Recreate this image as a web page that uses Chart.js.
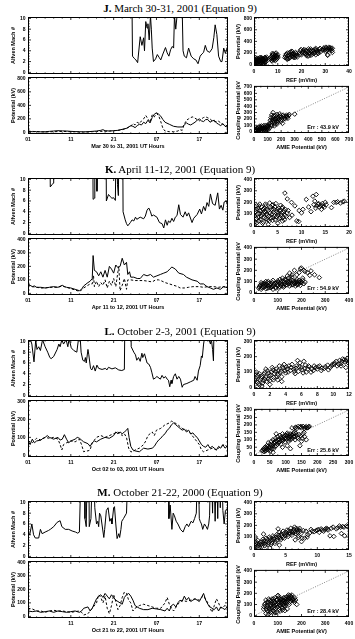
<!DOCTYPE html>
<html>
<head>
<meta charset="utf-8">
<script src="https://cdn.jsdelivr.net/npm/chart.js@4.4.1/dist/chart.umd.min.js"></script>
<style>
  body { margin: 0; background: #fff; }
  #fig { position: relative; width: 355px; height: 639px; overflow: hidden; background: #fff; }
  #fig canvas { position: absolute; }
  .ttl { position: absolute; white-space: nowrap; font: 11px "Liberation Serif", "Times New Roman", serif; color: #000; transform: translateX(-50%); line-height: 11px; }
</style>
</head>
<body>
<div id="fig"></div>
<script>
// ---- shared ticks ----
const timeMax = 46.7;                       // hours after 01 UT on day 1
const timeTicks = [0, 10, 20, 30, 40];
const timeLabels = ['01', '11', '21', '07', '17'];
const timeLabelsM = ['', '11', '21', '07', '17'];
const machTicks = [0, 2, 4, 6, 8, 10];

// ---- J. March 30-31, 2001 ----  [hour, value]
const jMach = [[0,20],[24.2,20],[24.4,3.0],[24.8,2.6],[25.2,2.3],[25.6,1.8],[26.2,6.6],[26.6,5.0],[27.0,6.4],[27.2,4.0],[27.5,9.4],[27.8,8.2],[28.0,9.0],[28.3,6.0],[28.6,10.5],[28.8,8.0],[29.0,4.5],[29.3,2.0],[29.8,2.5],[30.2,3.3],[30.6,2.8],[31.0,2.3],[31.5,3.4],[32.1,4.6],[32.5,3.6],[32.9,3.0],[33.3,4.2],[33.7,4.8],[34.0,4.5],[34.2,10.5],[34.5,8.0],[34.8,10.5],[36.0,12],[36.2,4.0],[36.5,3.0],[37.0,2.7],[37.5,4.5],[38.1,3.0],[38.7,2.5],[39.2,2.3],[39.7,1.6],[40.2,3.0],[40.6,3.4],[41.0,3.7],[41.4,5.0],[41.8,4.0],[42.4,3.7],[43.0,4.4],[43.4,6.5],[43.7,8.8],[44.1,7.0],[44.5,3.0],[45.0,2.0],[45.3,2.0],[45.7,4.5],[46.1,3.5],[46.5,4.5],[46.7,4.0]];
const jAmie = [[0,15],[1,10],[2,12],[3,8],[4,10],[5,15],[6,20],[7,25],[8,22],[9,20],[10,15],[11,12],[12,10],[13,8],[14,10],[15,15],[16,20],[17,30],[17.5,40],[18,25],[19,20],[20,25],[21,30],[22,45],[23,60],[24,100],[24.5,90],[25,70],[25.5,100],[26,120],[26.5,110],[27,150],[27.5,130],[28,180],[28.5,140],[29,220],[29.5,270],[30,290],[30.5,270],[31,240],[31.5,190],[32,150],[33,120],[34,90],[35,80],[36,80],[36.5,110],[37,140],[37.5,120],[38,110],[38.5,130],[39,150],[39.5,180],[40,200],[40.5,170],[41,160],[41.5,190],[42,190],[42.5,150],[43,170],[43.5,180],[44,140],[44.5,120],[45,100],[45.5,130],[46,90],[46.4,80],[46.7,110]];
const jCoupling = [[0,20],[1,15],[2,10],[3,8],[4,5],[5,8],[6,10],[7,12],[8,15],[9,12],[10,10],[11,8],[12,5],[13,5],[14,8],[15,10],[16,12],[17,15],[18,15],[19,20],[20,25],[21,30],[22,40],[23,60],[24,90],[24.5,130],[25,110],[25.5,150],[26,130],[26.5,170],[27,200],[27.5,250],[28,200],[28.5,150],[29,260],[29.5,230],[30,280],[30.5,250],[31,160],[31.5,60],[32,20],[33,10],[34,10],[35,20],[35.5,40],[36,30],[36.5,120],[37,180],[37.5,200],[38,220],[38.5,230],[39,210],[39.5,190],[40,170],[40.5,200],[41,220],[41.5,230],[42,215],[42.5,200],[43,170],[43.5,160],[44,160],[44.5,170],[45,130],[45.5,120],[46,110],[46.7,90]];
const jRefScatter = [[0.3,10],[0.5,40],[0.8,20],[1,60],[1.2,5],[1.5,35],[1.8,80],[2,15],[2.2,50],[2.5,100],[2.7,30],[3,70],[3.2,120],[3.5,45],[3.8,90],[4,20],[4.2,60],[4.5,110],[4.8,40],[5,80],[5.3,130],[1,100],[0.6,75],[3.6,10],
  [0.2,50],[0.4,90],[0.7,120],[0.9,35],[1.3,85],[1.6,110],[1.9,55],[2.1,75],[2.4,10],[2.6,125],[2.9,95],[3.1,25],[3.4,105],[3.7,65],[4.1,85],[4.4,35],[4.6,125],[4.9,100],[5.1,55],[0.1,25],[1.4,15],[2.8,45],[3.3,90],[4.3,5],[5.2,105],
  [7,90],[7.3,140],[7.6,60],[8,120],[8.2,180],[8.5,100],[8.8,150],[9,70],[9.3,200],[9.5,130],[9.8,110],[10,170],[7.8,195],
  [7.1,120],[7.4,75],[7.7,165],[8.1,140],[8.4,80],[8.7,125],[9.1,160],[9.4,90],[9.7,150],[10.1,130],[8.9,185],[7.5,105],
  [13,120],[13.5,180],[14,150],[14.3,100],[14.8,200],[15.2,130],[15.5,170],[16,230],[16.3,150],[16.8,190],[17.2,120],[17.5,210],[18,160],[14,90],
  [13.2,150],[13.7,110],[14.1,200],[14.6,160],[15,110],[15.4,220],[15.8,140],[16.1,180],[16.6,125],[17,170],[17.4,150],[17.8,190],[18.2,130],[15.9,200],
  [19,200],[19.5,240],[20,170],[20.5,220],[21,260],[21.5,190],[22,230],[22.5,150],[23,270],[23.5,200],[24,240],[24.5,180],[25,250],[25.5,210],[26,280],[26.5,230],[27,190],[27.5,260],[28,220],
  [19.2,170],[19.8,260],[20.3,200],[20.8,240],[21.2,210],[21.8,250],[22.3,180],[22.8,220],[23.3,240],[23.8,270],[24.3,210],[24.8,230],[25.3,190],[25.8,260],[26.3,250],[26.8,210],[27.3,230],[27.8,280],[22,160],[26,170],
  [29,250],[29.5,290],[30,230],[30.5,280],[31,260],[31.5,300],[32,250],[32.5,270],[33,210],[31,170],[33,280],[23,150],[24,160],[31,160],
  [29.2,270],[29.8,260],[30.3,300],[30.8,240],[31.3,280],[31.8,270],[32.3,290],[32.8,240]];
const jAmieScatter = [[10,5],[20,20],[30,10],[40,40],[50,15],[60,60],[70,30],[80,70],[90,20],[100,50],[25,50],[55,90],[85,100],[15,30],[45,65],[75,10],[95,80],[35,25],[65,45],[105,30],
  [5,15],[12,40],[18,8],[22,55],[28,30],[33,70],[38,15],[42,85],[48,35],[52,50],[58,20],[62,80],[68,55],[72,95],[78,40],[82,25],[88,60],[92,35],[98,95],[102,70],[108,90],[115,60],
  [110,120],[120,180],[130,90],[140,220],[150,150],[160,250],[170,120],[175,200],[180,170],[190,280],[200,230],[210,130],[220,240],[230,200],[240,260],[250,210],[260,270],[130,260],[140,300],[155,200],[165,160],[120,140],[150,90],[185,240],[205,190],[215,260],
  [125,110],[135,150],[145,180],[155,120],[160,200],[165,230],[170,270],[175,150],[180,220],[185,190],[195,250],[200,160],[210,220],[225,210],[235,240],[245,230],[255,250],[125,220],[135,190],[145,250],
  [300,275]];

// ---- K. April 11-12, 2001 ----
const kMach = [[0,20],[5.1,20],[5.2,8.6],[5.6,9.0],[5.9,9.3],[6.0,20],[15.1,20],[15.2,6.3],[15.5,6.5],[15.6,20],[16.0,20],[16.1,7.8],[16.4,20],[18.2,20],[18.3,6.0],[18.8,7.2],[19.2,6.8],[19.6,6.5],[20.0,6.6],[20.4,6.1],[20.6,20],[20.9,9.0],[21.1,7.0],[21.3,20],[22.1,20],[22.2,4.0],[22.7,2.5],[23.0,1.8],[23.3,1.4],[23.9,2.0],[24.3,2.5],[24.7,2.3],[25.1,3.0],[25.4,2.6],[26.2,3.0],[27.0,2.7],[27.4,3.2],[27.8,4.3],[28.2,4.7],[28.6,4.0],[28.9,3.2],[29.3,3.4],[30.1,3.0],[30.7,2.0],[31.3,1.8],[31.7,1.0],[32.1,2.5],[32.5,1.5],[32.8,2.3],[33.2,2.0],[33.6,2.8],[34.0,2.2],[34.4,3.0],[34.8,3.3],[35.2,5.3],[35.6,3.5],[36.2,3.0],[36.7,4.0],[37.1,3.2],[37.5,3.8],[38.3,2.0],[38.7,2.8],[39.5,3.5],[40.1,4.5],[40.5,3.6],[41.0,5.0],[41.4,4.2],[41.8,5.7],[42.2,5.0],[42.6,7.3],[43.1,5.5],[43.7,5.2],[44.3,7.5],[44.7,4.5],[45.1,5.2],[45.5,4.3],[45.8,5.8],[46.3,6.0],[46.7,5.0]];
const kAmie = [[0,70],[0.5,60],[1,50],[1.5,55],[2,45],[3,45],[4,40],[5,45],[6,50],[7,45],[8,60],[8.5,50],[9,45],[10,40],[11,30],[12,20],[12.5,30],[13,55],[14,80],[14.5,90],[15,110],[15.2,280],[15.5,170],[16,160],[16.5,130],[17,160],[17.5,120],[18,170],[18.5,120],[19,200],[19.5,180],[20,150],[20.5,210],[21,190],[21.5,200],[22,260],[22.5,210],[23,230],[23.3,140],[23.7,160],[24,120],[24.7,120],[25.5,110],[26.2,110],[27,140],[27.8,130],[28.6,140],[29.3,120],[30.1,130],[30.9,140],[31.7,150],[32.5,160],[33.1,180],[33.6,195],[34.4,180],[35.2,150],[36.3,140],[37,120],[38.3,100],[39.5,90],[40.2,70],[41,70],[41.8,50],[42.6,40],[43.3,30],[44.1,40],[44.9,30],[45.7,50],[46.2,45],[46.7,40]];
const kCoupling = [[0,65],[1,50],[2,45],[3,40],[4,40],[5,45],[6,45],[7,45],[8,55],[9,45],[10,35],[11,25],[12,15],[12.5,25],[13,40],[14,60],[14.5,70],[15,70],[15.3,130],[15.5,50],[16,90],[16.5,50],[17,80],[17.5,60],[18,100],[18.5,40],[19,90],[19.5,60],[20,110],[20.5,50],[21,160],[21.2,200],[21.5,20],[22,60],[22.5,110],[23,30],[23.3,100],[24,100],[25,95],[26,95],[27,95],[28,90],[29,85],[29.8,100],[30.5,100],[31,95],[32,80],[33,70],[34,60],[35,50],[35.5,40],[36.5,40],[37.5,45],[38.5,50],[40,50],[41,45],[42,50],[43.3,50],[44.5,45],[45.5,50],[46.7,45]];
const kRefScatter = [[0.2,30],[0.5,60],[0.7,100],[1,40],[1.2,130],[1.5,80],[1.8,20],[2,110],[2.2,150],[2.5,60],[2.8,90],[3,130],[3.2,40],[3.5,160],[3.8,100],[4,70],[4.2,140],[4.5,50],[4.8,120],[5,90],[5.2,150],[5.5,70],[5.8,110],[6,40],[6.3,130],[6.5,90],[1,170],[2.4,185],[3.3,195],[4.6,190],[0.4,140],[1.6,160],[2,30],[3,10],[5,20],[6,160],[7,110],[7.5,70],[4,180],
  [0.1,80],[0.3,120],[0.6,25],[0.8,150],[0.9,70],[1.1,105],[1.3,55],[1.4,125],[1.7,95],[1.9,140],[2.1,70],[2.3,120],[2.6,100],[2.7,140],[2.9,50],[3.1,80],[3.4,110],[3.6,65],[3.7,140],[3.9,45],[4.1,115],[4.3,85],[4.4,160],[4.7,75],[4.9,140],[5.1,110],[5.3,60],[5.4,130],[5.7,90],[5.9,150],[6.1,70],[6.2,115],[6.4,50],[6.6,140],[6.8,80],[7.2,130],[2.5,170],[3.8,175],[1.2,185],[0.5,170],[5.6,175],
  [6.5,280],[7,230],[7.9,200],[8.6,170],[9,40],[9.4,35],[10.3,140],[11,225],[11.5,160],[12.4,253],[13.1,268],[12.8,211],[13.5,183],[13.8,160],[14.2,140],[15,200],[14.5,170],[16.3,155],[17.3,200],[18.7,205],[19,210],[13,150],[12,120],[9.5,130],[8,90],[10,110],
  [13.2,170],[13.6,190],[14,175],[14.4,190],[14.8,160],[15.2,180],[12.6,180],[16.8,200],[17.6,205],[18.2,195]];
const kAmieScatter = [[20,40],[25,60],[30,30],[35,80],[40,50],[45,70],[50,35],[55,90],[60,60],[65,45],[70,80],[75,55],[80,30],[85,75],[90,50],[95,90],[100,60],[105,40],[110,85],[115,65],[120,100],[125,50],[130,80],[135,110],[140,70],[145,95],[150,60],[155,120],[160,85],[165,70],[170,100],[175,60],[180,90],[185,75],[190,110],[195,65],[200,90],[210,80],
  [22,50],[28,70],[33,45],[38,65],[43,85],[48,55],[52,75],[58,40],[62,85],[68,65],[72,45],[78,90],[82,60],[88,85],[92,40],[98,75],[102,95],[108,55],[112,100],[118,80],[122,60],[128,95],[132,65],[138,90],[142,105],[148,80],[152,100],[158,70],[162,110],[168,90],[172,80],[178,105],[182,70],[188,95],[192,85],[198,100],[205,110],[215,95],
  [30,90],[50,100],[100,105],[110,120],[140,150],[150,175],[160,140],[170,200],[180,160],[195,215],[200,220],[210,200],[215,190],[225,180],[235,155],[240,195],[255,160],[275,135],[145,130],[130,120],[180,120],[205,130],[60,100],[80,110],[120,130],[160,160],[190,180]];

// ---- L. October 2-3, 2001 ----
const lMach = [[0,9.5],[0.5,10.5],[0.9,9.5],[1.4,6.2],[1.8,10.2],[2.1,8.5],[2.5,9.0],[2.9,8.3],[3.4,10.3],[4.0,9.0],[4.6,8.0],[5.1,7.0],[5.4,6.8],[6.0,7.2],[6.8,8.5],[7.2,9.5],[7.5,9.0],[7.9,10.3],[8.3,9.5],[8.9,10.3],[9.3,9.0],[9.6,10.5],[10.1,8.8],[10.7,8.3],[11.4,8.0],[11.8,10.5],[12.2,10.5],[12.4,8.0],[12.8,6.5],[13.2,6.3],[13.4,7.0],[13.6,6.0],[14.0,8.5],[14.2,7.5],[14.6,5.0],[14.9,4.7],[15.3,5.5],[15.7,4.5],[16.1,5.6],[16.5,5.0],[17.3,4.8],[18.1,5.0],[18.4,4.7],[18.8,5.2],[19.6,4.9],[20.4,5.1],[21.2,4.7],[21.9,4.6],[22.5,4.8],[22.7,20],[23.9,20],[24.1,9.0],[24.7,8.0],[25.1,7.5],[25.4,6.5],[25.8,7.0],[26.2,6.3],[26.6,7.8],[26.8,7.0],[27.2,7.7],[27.8,6.0],[28.2,5.8],[28.6,5.2],[28.9,4.3],[29.3,3.0],[29.7,3.2],[30.1,3.5],[30.9,3.0],[31.3,3.7],[31.7,3.2],[32.1,3.5],[32.5,3.0],[32.8,2.8],[33.1,1.6],[33.4,2.8],[33.6,2.2],[34.0,3.5],[34.4,4.0],[34.8,3.0],[35.2,3.5],[35.6,3.0],[36.0,1.5],[36.3,2.0],[37.1,2.2],[37.9,2.5],[38.7,2.8],[39.0,3.5],[39.5,2.8],[39.8,4.5],[40.2,5.5],[40.5,7.3],[40.7,7.0],[41.0,9.5],[41.2,10.5],[42.2,10.5],[42.6,9.5],[42.8,10.5],[43.1,8.5],[43.3,6.4],[43.6,20],[46.7,20]];
const lAmie = [[0,80],[0.5,60],[1,90],[1.5,70],[2,80],[3,85],[3.5,95],[4,100],[4.5,110],[5,100],[5.5,95],[6,90],[7,100],[7.5,85],[8,90],[8.5,115],[9,90],[9.5,70],[10,80],[11,90],[11.5,100],[12,95],[12.5,85],[13,75],[14,65],[14.5,50],[15,70],[15.5,80],[16,75],[17,90],[18,100],[19,95],[20,110],[20.5,130],[21,120],[21.5,130],[22,120],[22.5,130],[23,140],[23.3,150],[23.6,100],[24,50],[24.5,30],[25,25],[26,20],[26.5,30],[27,40],[28,35],[29,40],[29.5,50],[30,70],[30.5,85],[31,95],[31.5,110],[32,120],[32.5,140],[33,150],[33.5,170],[34,180],[34.5,170],[35,160],[35.5,150],[36,140],[36.5,145],[37,130],[37.5,140],[38,120],[38.5,125],[39,110],[39.5,100],[40,80],[40.5,60],[41,50],[41.5,45],[42,60],[42.5,40],[43,50],[43.5,40],[44,30],[44.5,50],[45,40],[45.5,60],[46,40],[46.5,50],[46.7,70]];
const lCoupling = [[0,80],[1,70],[2,95],[3,85],[4,100],[5,95],[6,100],[7,90],[7.5,60],[7.9,30],[8.3,60],[9,70],[10,80],[11,75],[12,90],[12.5,60],[13,20],[13.5,25],[14,25],[14.5,30],[15,70],[16,100],[17,110],[18,100],[19,110],[20,120],[21,130],[22,110],[22.5,120],[23,100],[23.5,40],[24,20],[24.5,20],[25,30],[26,40],[27,60],[27.5,80],[28,110],[28.5,120],[29,130],[29.5,110],[30,140],[31,150],[32,170],[33,180],[33.5,190],[34,185],[35,170],[36,150],[37,140],[38,120],[39,90],[40,60],[40.5,30],[41,20],[42,30],[43,40],[44,30],[45,50],[46,60],[46.7,40]];
const lRefScatter = [[0.1,20],[0.2,60],[0.4,35],[0.5,80],[0.7,15],[0.8,50],[1,70],[1.1,30],[1.3,95],[1.4,55],[1.6,40],[1.7,110],[1.9,75],[2,45],[2.2,100],[2.3,130],[2.5,65],[2.6,90],[2.8,120],[3,50],[3,85],[3.2,140],[3.4,105],[3.5,70],[3.7,125],[3.8,150],[4,95],[4.1,135],[0.3,100],[1,10],[2,20],[3.5,40],[1.5,120],
  [0.15,45],[0.35,70],[0.6,25],[0.65,90],[0.9,60],[1.2,45],[1.25,85],[1.5,70],[1.8,55],[1.85,95],[2.1,80],[2.4,115],[2.45,50],[2.7,105],[2.9,70],[3.1,110],[3.3,95],[3.6,135],[3.9,110],[4.2,120],[4.4,140],[4.3,100],
  [4.6,110],[4.8,150],[5,120],[5.2,90],[5.4,140],[5.6,105],[5.8,160],[6,130],[6.2,95],[6.5,145],[6.8,120],[7,135],[7.2,100],[5.5,175],[6.3,170],
  [4.7,130],[5.1,105],[5.3,125],[5.7,135],[6.1,115],[6.4,125],[6.6,100],[6.9,140],[7.3,120],
  [7.5,110],[7.8,130],[8,120],[8.3,140],[8.6,125],[9,135],[9.3,145],[9.6,130],[9.9,150],[7.6,140],[8.1,135],[8.5,110],[8.9,125],[9.4,115],[9.8,140],
  [10.2,160],[10.5,140],[10.8,175],[11,155],[11.2,185],[11.5,165],[11.8,190],[12,170],[11,140],[11.6,130],[10.1,150],[10.4,170],[10.7,150],[11.1,170],[11.4,180],[11.7,175],[11.9,160]];
const lAmieScatter = [[25,25],[30,40],[32,20],[35,50],[38,30],[40,60],[42,35],[45,80],[48,45],[50,70],[52,25],[55,90],[58,55],[60,100],[62,40],[65,75],[68,110],[70,60],[72,90],[75,120],[78,80],[80,100],[82,130],[85,70],[88,110],[90,140],[92,95],[95,120],[98,85],[100,130],[102,105],[105,145],[108,115],[110,90],[112,125],[115,100],[118,135],[120,110],[125,140],[128,120],[130,100],[135,130],[140,110],[145,60],[150,90],[155,140],[160,120],[165,100],
  [28,30],[33,35],[36,25],[40,45],[44,55],[46,30],[50,55],[54,65],[56,40],[60,70],[64,85],[66,55],[70,95],[74,70],[76,100],[80,85],[84,115],[86,95],[90,105],[94,125],[96,110],[100,115],[104,125],[106,135],[110,105],[114,140],[116,120],[120,130],[124,120],[126,150],[132,145],[136,115],[142,135],[148,125],[152,110],[158,150],
  [130,180],[135,175],[140,190],[145,185],[150,180],[155,190],[160,178],[165,188],[170,182],[175,190],[120,180],[132,185],[148,190],[162,185],[168,180],[172,188],[70,140],[90,50],[105,60],[115,40],[60,15]];

// ---- M. October 21-22, 2000 ----
const mMach = [[0,4.5],[0.4,4.0],[0.9,6.0],[1.3,4.0],[1.7,3.4],[2.5,3.4],[2.9,5.0],[3.3,4.2],[4.0,4.5],[4.8,4.8],[5.2,5.0],[6.0,5.5],[6.8,6.3],[7.5,6.6],[7.9,5.5],[8.7,5.0],[9.5,5.0],[10.3,4.7],[11.1,4.5],[11.6,4.3],[12.0,4.5],[12.5,20],[13.2,20],[13.3,7.0],[13.6,5.5],[13.9,20],[14.2,20],[14.3,5.5],[14.7,7.0],[15.2,20],[15.6,9.0],[16.0,6.0],[16.3,6.5],[16.5,5.5],[16.7,8.0],[17.0,7.5],[17.7,3.5],[17.9,5.0],[18.3,8.5],[18.7,9.0],[19.1,6.5],[19.4,7.0],[19.6,6.0],[20.0,9.0],[20.2,9.2],[20.5,6.0],[20.8,3.3],[21.2,4.2],[21.4,3.5],[21.7,5.0],[21.9,6.5],[22.3,7.0],[23.0,8.0],[23.5,20],[32.8,20],[32.9,7.0],[33.2,9.5],[33.6,5.0],[33.9,8.0],[34.2,7.5],[34.6,6.5],[35.0,6.0],[35.6,5.0],[36.2,4.5],[36.7,5.5],[37.1,6.0],[37.5,5.5],[38.1,6.5],[38.5,6.2],[38.9,7.0],[39.3,8.0],[39.7,20],[40.0,7.0],[40.2,6.5],[40.5,6.0],[40.8,5.0],[41.2,6.0],[41.6,5.5],[41.9,5.0],[42.2,6.0],[42.4,7.5],[42.7,20],[43.1,8.0],[43.3,20],[43.7,6.5],[44.0,20],[44.3,7.0],[44.6,20],[44.9,9.0],[45.2,20],[45.5,8.5],[45.8,6.0],[46.1,8.5],[46.7,9.0]];
const mAmie = [[0,40],[1,35],[2,40],[3,30],[4,35],[5,40],[6,30],[7,40],[8,35],[9,30],[10,35],[11,40],[12,30],[12.5,40],[13,60],[14,70],[14.5,40],[15,60],[16,130],[16.5,150],[17,160],[17.5,140],[18,170],[18.5,150],[19,130],[19.5,160],[20,140],[20.5,120],[21,110],[21.5,100],[22,90],[22.5,140],[23,160],[23.5,170],[24,150],[24.5,120],[25,80],[26,60],[27,50],[28,50],[29,60],[30,55],[31,50],[32,40],[32.5,60],[33,40],[33.5,80],[34,90],[34.5,70],[35,100],[35.5,120],[36,110],[36.5,150],[37,120],[37.5,140],[38,110],[38.5,120],[39,130],[39.5,120],[40,110],[40.5,140],[41,170],[41.5,120],[42,90],[42.5,70],[43,60],[43.5,50],[44,70],[44.5,40],[45,70],[45.5,60],[46,50],[46.7,80]];
const mCoupling = [[0,60],[1,55],[2,40],[3,40],[4,30],[5,40],[6,45],[7,40],[8,40],[9,35],[10,30],[11,35],[12,40],[12.5,30],[13,10],[14,20],[15,60],[16,100],[16.5,160],[17,140],[17.5,100],[18,150],[18.5,60],[19,20],[19.5,80],[20,160],[20.5,110],[21,50],[21.5,80],[22,140],[22.5,180],[23,170],[23.5,120],[24,100],[24.5,40],[25,60],[26,80],[27,90],[28,80],[29,70],[30,60],[31,60],[32,100],[32.5,140],[33,90],[33.5,60],[34,40],[35,90],[36,120],[37,110],[38,120],[39,130],[40,120],[40.5,140],[41,150],[42,100],[42.5,60],[43,30],[43.5,80],[44,130],[44.5,100],[45,60],[46,80],[46.7,70]];
const mRefScatter = [[0.1,10],[0.3,40],[0.5,20],[0.6,70],[0.8,30],[1,55],[1.2,15],[1.4,80],[1.5,45],[1.7,25],[1.9,90],[2,60],[2.2,35],[2.4,100],[2.6,70],[2.8,50],[3,110],[3.2,85],[3.4,60],[3.6,120],[3.8,95],[4,140],[4.2,75],[4.4,110],[4.6,150],[4.8,90],[5,125],[5.2,160],[5.4,105],[5.6,140],[5.8,175],[6,115],[6.2,150],[6.4,185],[6.6,130],[6.8,160],[7,110],[7.2,175],[0.2,100],[1.5,125],[3.8,170],[2.5,5],[4,30],[6.5,75],[7.5,60],
  [0.15,25],[0.4,55],[0.7,45],[0.9,15],[1.1,35],[1.3,60],[1.6,65],[1.8,40],[2.1,80],[2.3,50],[2.5,85],[2.7,35],[2.9,75],[3.1,95],[3.3,45],[3.5,100],[3.7,75],[3.9,115],[4.1,90],[4.3,125],[4.5,95],[4.7,130],[4.9,110],[5.1,140],[5.3,120],[5.5,155],[5.7,125],[5.9,150],[6.1,135],[6.3,165],[6.5,145],[6.7,175],[6.9,140],[7.1,160],[7.3,150],[7.4,130],
  [7.8,155],[8.2,150],[8.5,120],[8.8,135],[9,165],[9.5,145],[10,160],[10.3,140],[10.6,170],[11,150],[11.4,175],[11.7,160],[12,110],[12.5,185],[12.6,105],[13,170],[13.5,195],[13.8,130],[14,190],[14.3,110],[14.6,195],[7,95],[8,90],
  [9.2,150],[9.8,155],[10.2,165],[10.8,160],[11.2,165],[11.6,170],[12.2,175],[13.2,180],[13.7,185],[14.2,185],[14.8,190],[7.6,90],[8.4,100]];
const mAmieScatter = [[40,60],[45,100],[50,20],[50,140],[55,80],[58,40],[60,120],[62,150],[65,60],[68,90],[70,30],[72,130],[75,70],[78,110],[80,45],[82,150],[85,90],[88,25],[90,120],[92,65],[95,100],[98,140],[100,80],[102,180],[105,110],[108,55],[110,130],[112,90],[115,150],[118,120],[120,70],[122,100],[125,140],[128,110],[130,160],[132,90],[135,130],[138,170],[140,120],[145,150],[148,100],[150,180],[155,130],[160,185],[165,150],[170,120],[175,140],[180,100],
  [42,80],[48,110],[52,60],[54,120],[56,95],[62,70],[64,135],[66,45],[70,105],[74,90],[76,150],[80,130],[84,70],[86,115],[88,160],[92,95],[94,140],[96,75],[100,120],[104,160],[106,95],[110,150],[114,110],[116,75],[118,140],[122,130],[124,160],[126,90],[130,120],[134,150],[136,105],[142,140],[146,165],[150,120],[152,150],[158,160],[162,140],[168,135],[172,160],[100,180],[145,185],[155,175],
  [60,10],[70,5],[85,35],[95,30],[110,40],[120,50],[130,45],[140,60]];

const panels = [
  { dy: 0, letter: 'J.', date: 'March 30-31, 2001 (Equation 9)', hours: 'Mar 30 to 31, 2001 UT Hours', tLabels: timeLabels,
    mach: jMach, amie: jAmie, coupling: jCoupling, potTicks: [0, 200, 400, 600, 800],
    ref: jRefScatter, refTicks: [0, 10, 20, 30, 40], cmp: jAmieScatter, cmpTicks: [0, 100, 200, 300, 400, 500, 600, 700], err: 'Err : 43.9 kV' },
  { dy: 161, letter: 'K.', date: 'April 11-12, 2001 (Equation 9)', hours: 'Apr 11 to 12, 2001 UT Hours', tLabels: timeLabels,
    mach: kMach, amie: kAmie, coupling: kCoupling, potTicks: [0, 100, 200, 300, 400],
    ref: kRefScatter, refTicks: [0, 5, 10, 15, 20], cmp: kAmieScatter, cmpTicks: [0, 100, 200, 300, 400], err: 'Err : 54.9 kV' },
  { dy: 323, letter: 'L.', date: 'October 2-3, 2001 (Equation 9)', hours: 'Oct 02 to 03, 2001 UT Hours', tLabels: timeLabels,
    mach: lMach, amie: lAmie, coupling: lCoupling, potTicks: [0, 100, 200, 300],
    ref: lRefScatter, refTicks: [0, 2, 4, 6, 8, 10, 12], cmp: lAmieScatter, cmpTicks: [0, 50, 100, 150, 200, 250, 300], err: 'Err : 25.6 kV' },
  { dy: 484, letter: 'M.', date: 'October 21-22, 2000 (Equation 9)', hours: 'Oct 21 to 22, 2001 UT Hours', tLabels: timeLabelsM,
    mach: mMach, amie: mAmie, coupling: mCoupling, potTicks: [0, 100, 200, 300, 400],
    ref: mRefScatter, refTicks: [0, 5, 10, 15], cmp: mAmieScatter, cmpTicks: [0, 100, 200, 300, 400], err: 'Err : 28.4 kV' }
];

const fig = document.getElementById('fig');
const SANS = '"Liberation Sans", Arial, sans-serif';

function pts(pairs) {
  return pairs.map(p => ({ x: p[0], y: p[1] }));
}

// major + minor tick positions for the inside tick marks
function marks(scale, minor) {
  const t = scale.ticks.map(k => k.value);
  const out = [];
  if (t.length < 2) return out;
  const step = (t[1] - t[0]) / minor;
  for (let v = t[0] - step; v >= scale.min - 1e-9; v -= step) out.push({ v, len: 1.6 });
  t.forEach((v, i) => {
    out.push({ v, len: 3 });
    if (i < t.length - 1) for (let k = 1; k < minor; k++) out.push({ v: v + k * step, len: 1.6 });
  });
  for (let v = t[t.length - 1] + step; v <= scale.max + 1e-9; v += step) out.push({ v, len: 1.6 });
  return out;
}

// IDL style frame: box, inside ticks on all sides, axis titles, error note
const framePlugin = {
  id: 'frame',
  afterDatasetsDraw(chart, args, o) {
    const { ctx, chartArea: a } = chart;
    const { x, y } = chart.scales;
    ctx.save();
    ctx.strokeStyle = '#000';
    ctx.lineWidth = 1;
    ctx.strokeRect(a.left + 0.5, a.top + 0.5, a.right - a.left - 1, a.bottom - a.top - 1);
    ctx.lineWidth = 0.8;
    ctx.beginPath();
    marks(x, o.xMinor).forEach(m => {
      const px = x.getPixelForValue(m.v);
      if (px < a.left + 1 || px > a.right - 1) return;
      ctx.moveTo(px, a.bottom); ctx.lineTo(px, a.bottom - m.len);
      ctx.moveTo(px, a.top); ctx.lineTo(px, a.top + m.len);
    });
    marks(y, o.yMinor).forEach(m => {
      const py = y.getPixelForValue(m.v);
      if (py < a.top + 1 || py > a.bottom - 1) return;
      ctx.moveTo(a.left, py); ctx.lineTo(a.left + m.len, py);
      ctx.moveTo(a.right, py); ctx.lineTo(a.right - m.len, py);
    });
    ctx.stroke();

    ctx.fillStyle = '#000';
    ctx.font = 'bold 5.5px ' + SANS;
    ctx.textAlign = 'center';
    ctx.textBaseline = 'middle';
    if (o.yTitle) {
      ctx.save();
      ctx.translate(o.yTitleX - o.ox, (a.top + a.bottom) / 2);
      ctx.rotate(-Math.PI / 2);
      ctx.fillText(o.yTitle, 0, 0);
      ctx.restore();
    }
    if (o.xTitle) ctx.fillText(o.xTitle, (a.left + a.right) / 2, o.xTitleY - o.oy);
    if (o.err) {
      ctx.textAlign = 'right';
      ctx.fillText(o.err, a.right - 10, a.bottom - 6);
    }
    ctx.restore();
  }
};

function scaleOpts(ax, vertical, size) {
  return {
    type: 'linear',
    min: ax.range[0],
    max: ax.range[1],
    afterBuildTicks: s => { s.ticks = ax.ticks.map(v => ({ value: v })); },
    afterFit: s => {
      if (vertical) s.width = size; else s.height = size;
      s.paddingLeft = s.paddingRight = s.paddingTop = s.paddingBottom = 0;
    },
    grid: { display: false, drawTicks: false },
    border: { display: false },
    ticks: {
      display: !ax.hide,
      autoSkip: false,
      maxRotation: 0,
      minRotation: 0,
      padding: ax.pad,
      color: '#000',
      font: { family: SANS, size: 5, weight: 'bold' },
      callback: (v, i) => ax.labels ? ax.labels[i] : String(v)
    }
  };
}

function addChart(r, pad, datasets, xAx, yAx, extra) {
  const cv = document.createElement('canvas');
  const left = r.x - pad.l, top = r.y - pad.t;
  cv.width = r.w + pad.l + pad.r;
  cv.height = r.h + pad.t + pad.b;
  cv.style.left = left + 'px';
  cv.style.top = top + 'px';
  fig.appendChild(cv);
  new Chart(cv, {
    type: 'scatter',
    data: { datasets },
    options: {
      responsive: false,
      animation: false,
      events: [],
      layout: { padding: { left: 0, top: pad.t, right: pad.r, bottom: 0 } },
      scales: { x: scaleOpts(xAx, false, pad.b), y: scaleOpts(yAx, true, pad.l) },
      plugins: {
        legend: { display: false },
        tooltip: { enabled: false },
        frame: Object.assign({ ox: left, oy: top }, extra)
      }
    },
    plugins: [framePlugin]
  });
}

function trace(pairs, dash) {
  return { data: pts(pairs), showLine: true, borderColor: '#000', borderWidth: 1, borderDash: dash,
           pointRadius: 0, fill: false, tension: 0 };
}

function diamonds(pairs) {
  return { data: pts(pairs), showLine: false, pointStyle: 'rectRot', pointRadius: 2.3,
           borderWidth: 0.9, borderColor: '#000', backgroundColor: 'rgba(0,0,0,0)' };
}

function padded(ticks) {
  const top = ticks[ticks.length - 1];
  return [-0.03 * top, top * 1.025];
}

panels.forEach(p => {
  const dy = p.dy;
  const t = document.createElement('div');
  t.className = 'ttl';
  t.style.left = '180px';
  t.style.top = (2.5 + dy) + 'px';
  t.innerHTML = '<b>' + p.letter + '</b> ' + p.date;
  fig.appendChild(t);

  // Alfven Mach number
  addChart({ x: 28, y: 17 + dy, w: 200, h: 57 }, { l: 28, r: 2, t: 5, b: 1 },
    [trace(p.mach, [])],
    { range: [0, timeMax], ticks: timeTicks, hide: true, pad: 3 },
    { range: padded(machTicks), ticks: machTicks, pad: 2.5 },
    { yTitle: 'Alfven Mach #', yTitleX: 13.5, xMinor: 5, yMinor: 4 });

  // AMIE (solid) and coupling (dashed) potential
  addChart({ x: 28, y: 77 + dy, w: 200, h: 57 }, { l: 28, r: 2, t: 4, b: 16 },
    [trace(p.amie, []), trace(p.coupling, [2.5, 2])],
    { range: [0, timeMax], ticks: timeTicks, labels: p.tLabels, pad: 3 },
    { range: padded(p.potTicks), ticks: p.potTicks, pad: 2.5 },
    { yTitle: 'Potential (kV)', yTitleX: 13.5, xTitle: p.hours, xTitleY: 146 + dy, xMinor: 5, yMinor: 4 });

  // potential vs REF
  addChart({ x: 254, y: 17 + dy, w: 95, h: 49 }, { l: 22, r: 6, t: 5, b: 17 },
    [diamonds(p.ref)],
    { range: [0, p.refTicks[p.refTicks.length - 1]], ticks: p.refTicks, pad: 3 },
    { range: padded(p.potTicks), ticks: p.potTicks, pad: 2 },
    { yTitle: 'Potential (kV)', yTitleX: 238, xTitle: 'REF (mV/m)', xTitleY: 80 + dy, xMinor: 5, yMinor: 4 });

  // coupling vs AMIE potential
  const top = p.cmpTicks[p.cmpTicks.length - 1];
  addChart({ x: 254, y: 85 + dy, w: 95, h: 48 }, { l: 22, r: 6, t: 4, b: 17 },
    [diamonds(p.cmp),
     { data: pts([[0, 0], [top, top]]), showLine: true, borderColor: '#555', borderWidth: 0.7,
       borderDash: [1, 1.5], pointRadius: 0 }],
    { range: [0, top], ticks: p.cmpTicks, pad: 4 },
    { range: padded(p.cmpTicks), ticks: p.cmpTicks, pad: 2 },
    { yTitle: 'Coupling Potential (kV)', yTitleX: 238, xTitle: 'AMIE Potential (kV)', xTitleY: 147 + dy,
      err: p.err, xMinor: 2, yMinor: 2 });
});
</script>
</body>
</html>
